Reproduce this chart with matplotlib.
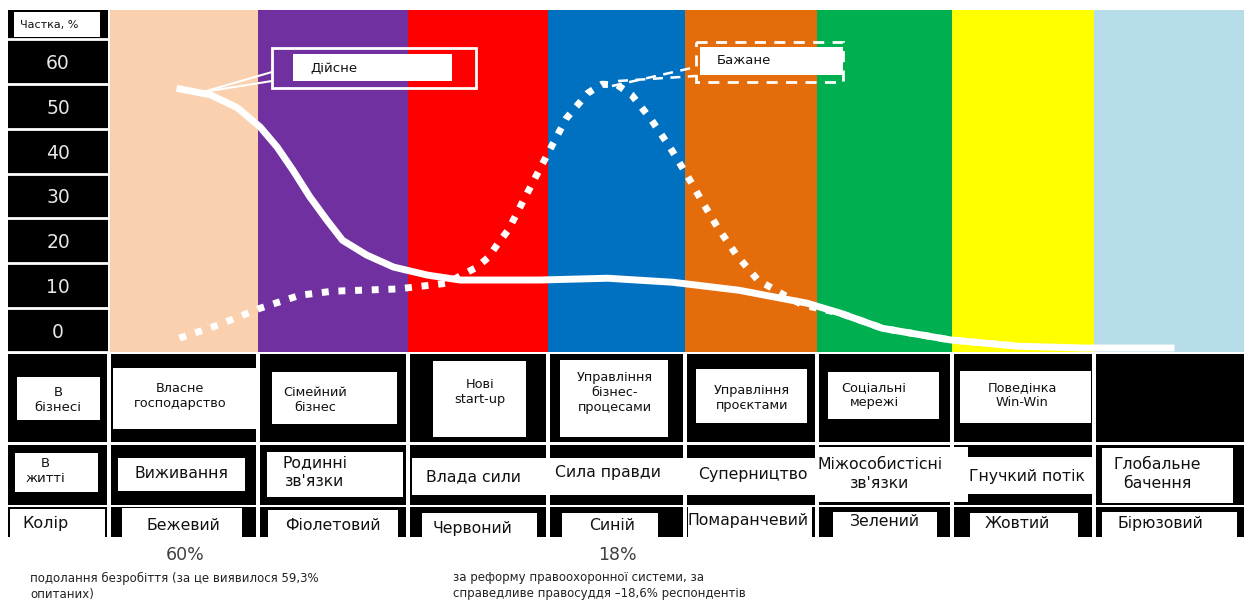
import numpy as np
import matplotlib.pyplot as plt
from matplotlib.patches import Rectangle

# Data (x in band units: band k spans band_edges[k]..band_edges[k+1])
band_colors = ['#FAD0AE', '#7030A0', '#FF0000', '#0070C0', '#E46C0A', '#00B050', '#FFFF00', '#B7DDE8']
band_edges = [0, 1.044, 2.102, 3.090, 4.056, 4.988, 5.940, 6.942, 8.0]

real_x = [0.47, 0.71, 0.90, 1.06, 1.18, 1.29, 1.41, 1.53, 1.64, 1.81, 2.00, 2.24, 2.47,
          3.03, 3.51, 3.97, 4.44, 4.92, 5.15, 5.45, 5.93, 6.40, 6.86, 7.51]
real_y = [54.1, 52.6, 49.7, 45.4, 40.9, 35.8, 29.8, 24.6, 20.1, 16.8, 14.1, 12.3, 11.2,
          11.2, 11.6, 10.7, 8.9, 6.0, 3.8, 0.4, -2.2, -3.6, -4.0, -4.0]

wish_x = [0.49, 0.76, 1.06, 1.34, 1.57, 2.03, 2.38, 2.48, 2.59, 2.67, 2.74, 2.81, 2.91,
          3.01, 3.12, 3.22, 3.37, 3.47, 3.58, 3.68, 3.82, 3.95, 4.07, 4.18, 4.29, 4.42,
          4.57, 4.78, 4.89, 5.15, 5.45, 5.93, 6.35]
wish_y = [-1.8, 1.1, 4.9, 7.8, 8.7, 9.2, 10.5, 12.3, 14.1, 16.3, 19.5, 22.4, 28.6,
          34.7, 41.4, 47.4, 53.0, 55.0, 54.8, 52.6, 47.0, 40.9, 34.7, 28.6, 22.8, 16.8,
          11.2, 7.4, 5.6, 3.8, 0.4, -2.2, -3.4]

yticks = [0, 10, 20, 30, 40, 50, 60]

business = ['Власне\nгосподарство', 'Сімейний\nбізнес', 'Нові\nstart-up',
            'Управління\nбізнес-\nпроцесами', 'Управління\nпроєктами',
            'Соціальні\nмережі', 'Поведінка\nWin-Win', '']
life = ['Виживання', "Родинні\nзв'язки", 'Влада сили', 'Сила правди', 'Суперництво',
        "Міжособистісні\nзв'язки", 'Гнучкий потік', 'Глобальне\nбачення']
colour_names = ['Бежевий', 'Фіолетовий', 'Червоний', 'Синій', 'Помаранчевий',
                'Зелений', 'Жовтий', 'Бірюзовий']

W, H = 1249, 601
fig = plt.figure(figsize=(W / 100, H / 100), dpi=100)

# background layer in pixel coordinates: axis column and table
bg = fig.add_axes([0, 0, 1, 1], zorder=0)
bg.set_xlim(0, W)
bg.set_ylim(H, 0)
bg.axis('off')

def box(ax, x0, y0, x1, y1, fc='white', **kw):
    ax.add_patch(Rectangle((x0, y0), x1 - x0, y1 - y0, facecolor=fc, edgecolor='none', **kw))

# y axis column
box(bg, 8, 10, 108, 352, fc='black')
for v in range(-5, 70, 10):
    y = 330 - 4.47 * v
    bg.plot([8, 108], [y, y], color='white', lw=2)
box(bg, 14, 12, 100, 37)
bg.text(20, 25, 'Частка, %', fontsize=8, va='center', ha='left', color='#111')

# table
rows = [(354, 442), (445, 505), (507, 537)]
cols = [(8, 107), (111, 256), (260, 406), (410, 546), (550, 683), (687, 815),
        (819, 950), (954, 1092), (1096, 1244)]
for r0, r1 in rows:
    for c0, c1 in cols:
        box(bg, c0, r0, c1, r1, fc='black')

row1_boxes = [(17, 377, 100, 420), (113, 368, 257, 429), (272, 372, 397, 424),
              (433, 361, 526, 437), (560, 360, 668, 437), (696, 369, 807, 423),
              (828, 372, 939, 419), (960, 371, 1091, 423)]
row1_text = [(58, 400), (180, 396), (315, 400), (480, 392), (615, 393), (752, 398),
             (874, 395), (1022, 395), (1170, 395)]
row2_boxes = [(15, 453, 98, 492), (118, 458, 245, 491), (267, 452, 403, 497),
              (412, 458, 547, 495), (548, 458, 683, 495), (685, 458, 815, 495),
              (817, 447, 968, 502), (968, 457, 1093, 494), (1102, 448, 1233, 503)]
row2_text = [(45, 471), (182, 473), (315, 472), (473, 477), (608, 473), (753, 475),
             (880, 474), (1027, 476), (1157, 474)]
row3_boxes = [(10, 509, 105, 537), (122, 508, 242, 537), (268, 510, 398, 537),
              (422, 513, 537, 537), (562, 513, 658, 537), (688, 507, 812, 537),
              (833, 512, 937, 537), (970, 513, 1078, 537), (1102, 512, 1237, 537)]
row3_text = [(46, 523), (183, 525), (333, 525), (473, 528), (612, 525), (748, 520),
             (885, 522), (1017, 523), (1160, 523)]

for b in row1_boxes + row2_boxes + row3_boxes:
    box(bg, *b)

bg.text(*row1_text[0], 'В\nбізнесі', fontsize=9.5, ha='center', va='center', color='#111')
bg.text(*row2_text[0], 'В\nжитті', fontsize=9.5, ha='center', va='center', color='#111')
bg.text(*row3_text[0], 'Колір', fontsize=11.5, ha='center', va='center', color='#111')
for i in range(8):
    bg.text(*row1_text[i + 1], business[i], fontsize=9.3, ha='center', va='center',
            color='#111', linespacing=1.2)
    bg.text(*row2_text[i + 1], life[i], fontsize=11.3, ha='center', va='center',
            color='#111', linespacing=1.35)
    bg.text(*row3_text[i + 1], colour_names[i], fontsize=11.3, ha='center', va='center',
            color='#111')

# notes below the table
bg.text(185, 555, '60%', fontsize=12.5, ha='center', va='center', color='#404040')
bg.text(30, 586, 'подолання безробіття (за це виявилося 59,3%\nопитаних)', fontsize=8.5,
        ha='left', va='center', color='#222', linespacing=1.3)
bg.text(617, 555, '18%', fontsize=12.5, ha='center', va='center', color='#404040')
bg.text(453, 586, 'за реформу правоохоронної системи, за\nсправедливе правосуддя –18,6% респондентів',
        fontsize=8.5, ha='left', va='center', color='#222', linespacing=1.3)

# chart
ax = fig.add_axes([110 / W, (H - 352) / H, 1134 / W, 342 / H], zorder=1)
ax.patch.set_visible(False)
for k, c in enumerate(band_colors):
    ax.axvspan(band_edges[k], band_edges[k + 1], color=c, lw=0)
ax.plot(real_x, real_y, color='white', lw=5, solid_capstyle='butt', solid_joinstyle='round')
ax.plot(wish_x, wish_y, color='white', lw=5, linestyle=(0, (1, 1.4)), dash_capstyle='butt')
ax.set_xlim(0, 8)
ax.set_ylim(-4.9, 71.6)
ax.set_xticks([])
ax.set_yticks(yticks)
ax.set_yticklabels([str(t) for t in yticks])
ax.tick_params(axis='y', length=0, pad=37.4, labelsize=13.5, labelcolor='#E6E6E6')
for lab in ax.get_yticklabels():
    lab.set_ha('center')
for s in ax.spines.values():
    s.set_visible(False)

# callouts on top
top = fig.add_axes([0, 0, 1, 1], zorder=2)
top.set_xlim(0, W)
top.set_ylim(H, 0)
top.axis('off')
top.patch.set_visible(False)

top.add_patch(Rectangle((272, 48), 204, 40, facecolor='none', edgecolor='white', lw=2))
box(top, 293, 54, 452, 81)
top.text(310, 68, 'Дійсне', fontsize=9.5, ha='left', va='center', color='#111')
top.plot([203, 272], [92, 72], color='white', lw=1.5)
top.plot([203, 272], [92, 81], color='white', lw=1.5)

top.add_patch(Rectangle((696, 42), 147, 40, facecolor='none', edgecolor='white', lw=2,
                        linestyle=(0, (4, 3))))
box(top, 700, 47, 843, 75)
top.text(717, 61, 'Бажане', fontsize=9.5, ha='left', va='center', color='#111')
top.plot([612, 696], [86, 67], color='white', lw=1.8, linestyle=(0, (4, 3)))
top.plot([618, 696], [81, 76], color='white', lw=1.8, linestyle=(0, (4, 3)))

fig.savefig('out.png', dpi=100, facecolor='white')
